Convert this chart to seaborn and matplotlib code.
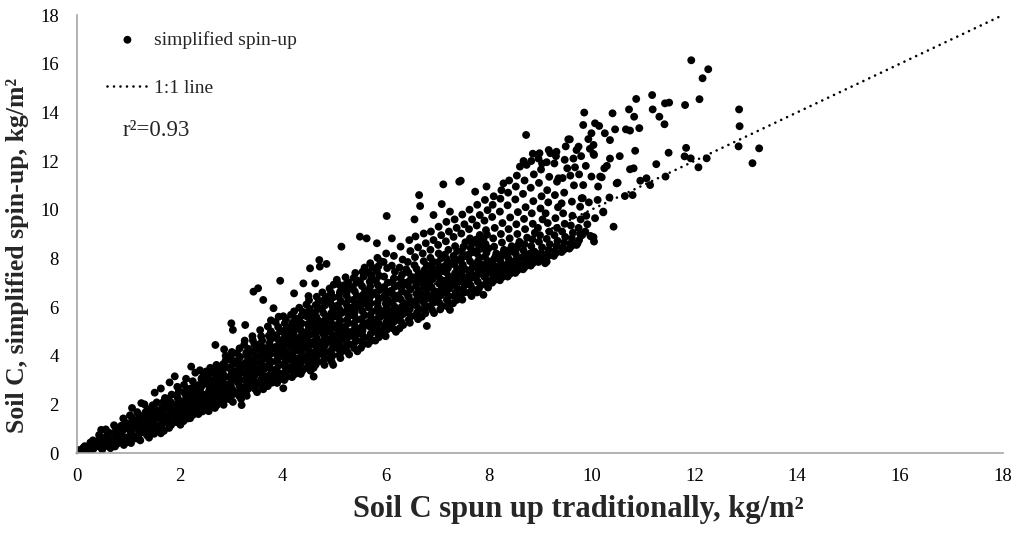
import matplotlib
matplotlib.use("Agg")
import matplotlib.pyplot as plt
import pandas as pd
import seaborn as sns

# Soil C (kg/m2) per site, grouped in narrow columns of the x value:
# ([spun up traditionally], [simplified spin-up])
soil_c_0_2 = [
    ([0.02, 0.05, 0.08, 0.04, 0.10, 0.01], [0.02, 0.07, 0.03, 0.12, 0.09, 0.00]),
    ([0.13, 0.17, 0.12, 0.19, 0.15, 0.21], [0.06, 0.14, 0.21, 0.10, 0.28, 0.19]),
    ([0.27, 0.32, 0.29, 0.34, 0.26, 0.31, 0.36], [0.09, 0.17, 0.31, 0.24, 0.43, 0.52, 0.36]),
    ([0.49, 0.44, 0.50, 0.46, 0.42, 0.48, 0.43, 0.47, 0.41], [0.14, 0.26, 0.38, 0.33, 0.51, 0.62, 0.74, 0.95, 0.45]),
    ([0.65, 0.57, 0.61, 0.64, 0.60, 0.58, 0.62, 0.56, 0.63, 0.59], [0.20, 0.29, 0.41, 0.50, 0.63, 0.72, 0.84, 0.97, 0.37, 0.56]),
    ([0.74, 0.79, 0.71, 0.76, 0.80, 0.73, 0.78, 0.75, 0.72, 0.77], [0.27, 0.39, 0.48, 0.60, 0.68, 0.81, 0.93, 1.04, 1.14, 0.55]),
    ([0.91, 0.89, 0.93, 0.96, 0.85, 0.88, 0.92, 0.86, 0.94, 0.90, 0.87, 0.95],
     [0.33, 0.45, 0.56, 0.64, 0.78, 0.90, 0.99, 1.12, 1.25, 1.42, 0.70, 0.43]),
    ([1.05, 1.02, 1.10, 1.06, 1.04, 1.08, 1.00, 1.04, 1.11, 1.06, 1.03, 1.07, 1.01, 1.09],
     [0.41, 0.52, 0.66, 0.75, 0.88, 0.97, 1.10, 1.21, 1.33, 1.47, 1.55, 1.85, 0.61, 1.02]),
    ([1.23, 1.15, 1.19, 1.26, 1.21, 1.18, 1.22, 1.16, 1.24, 1.20, 1.17, 1.25, 1.21, 1.19],
     [0.52, 0.60, 0.74, 0.86, 0.95, 1.08, 1.19, 1.30, 1.44, 1.56, 1.68, 2.05, 0.78, 1.15]),
    ([1.40, 1.36, 1.34, 1.38, 1.30, 1.36, 1.41, 1.35, 1.33, 1.33, 1.37, 1.31, 1.39, 1.35, 1.32],
     [0.63, 0.73, 0.85, 0.97, 1.06, 1.19, 1.30, 1.41, 1.55, 1.67, 1.80, 2.00, 0.90, 1.25, 1.50]),
    ([1.50, 1.49, 1.56, 1.51, 1.47, 1.48, 1.52, 1.46, 1.54, 1.50, 1.47, 1.55, 1.51, 1.49, 1.53, 1.45],
     [0.79, 0.92, 1.03, 1.12, 1.26, 1.38, 1.47, 1.60, 1.72, 1.85, 1.96, 2.08, 2.48, 1.04, 1.40, 1.63]),
    ([1.69, 1.65, 1.62, 1.70, 1.66, 1.64, 1.68, 1.60, 1.65, 1.71, 1.68, 1.71, 1.63, 1.63, 1.67, 1.61],
     [0.91, 1.02, 1.16, 1.27, 1.37, 1.50, 1.61, 1.73, 1.86, 1.98, 2.10, 2.26, 0.81, 2.65, 1.42, 1.62]),
    ([1.79, 1.83, 1.75, 1.80, 1.78, 1.86, 1.81, 1.77, 1.78, 1.82, 1.76, 1.84, 1.80, 1.77, 1.85, 1.81],
     [1.03, 1.15, 1.26, 1.40, 1.50, 1.63, 1.74, 1.86, 1.99, 2.10, 2.23, 2.40, 2.90, 1.30, 1.58, 1.81]),
    ([2.01, 1.93, 1.93, 1.97, 1.91, 1.99, 1.95, 1.92, 2.00, 1.96, 1.94, 1.98, 1.90, 1.95, 1.97, 1.94],
     [1.16, 1.27, 1.40, 1.52, 1.63, 1.75, 1.88, 2.00, 2.12, 2.25, 2.38, 2.55, 3.15, 2.72, 1.45, 1.95]),
]

soil_c_2_4 = [
    ([2.07, 2.15, 2.11, 2.09, 2.13, 2.05, 2.10, 2.12, 2.12, 2.16, 2.08, 2.14, 2.08, 2.12, 2.06, 2.14, 2.10],
     [1.31, 1.42, 1.55, 1.66, 1.78, 1.90, 2.01, 2.14, 2.26, 2.38, 2.50, 2.63, 2.80, 3.05, 1.60, 2.05, 2.45]),
    ([2.20, 2.25, 2.23, 2.27, 2.22, 2.31, 2.24, 2.29, 2.23, 2.27, 2.21, 2.29, 2.25, 2.22, 2.30, 2.26, 2.24, 2.28],
     [1.43, 1.56, 1.67, 1.80, 1.92, 2.03, 2.16, 2.28, 2.40, 2.52, 2.65, 2.78, 2.95, 3.55, 3.30, 1.72, 2.10, 2.60]),
    ([2.36, 2.44, 2.40, 2.37, 2.45, 2.41, 2.39, 2.43, 2.35, 2.40, 2.38, 2.42, 2.42, 2.46, 2.39, 2.44, 2.38, 2.42],
     [1.60, 1.71, 1.83, 1.95, 2.06, 2.20, 2.31, 2.43, 2.55, 2.67, 2.80, 2.92, 3.06, 3.20, 3.40, 1.88, 2.26, 2.75]),
    ([2.56, 2.54, 2.58, 2.50, 2.55, 2.53, 2.57, 2.57, 2.61, 2.54, 2.59, 2.53, 2.57, 2.51, 2.59, 2.55, 2.52, 2.60],
     [1.72, 1.84, 1.97, 2.08, 2.20, 2.33, 2.45, 2.57, 2.70, 2.82, 2.95, 3.08, 3.22, 3.35, 3.50, 2.00, 2.40, 2.90]),
    ([2.68, 2.72, 2.69, 2.65, 2.76, 2.69, 2.74, 2.68, 2.72, 2.66, 2.74, 2.70, 2.67, 2.75, 2.71, 2.69, 2.73, 2.65, 2.70],
     [1.85, 1.97, 2.10, 2.22, 2.34, 2.47, 2.60, 2.72, 2.85, 2.98, 3.10, 3.23, 3.37, 3.50, 3.62, 4.44, 2.15, 2.55, 3.05]),
    ([2.85, 2.82, 2.90, 2.86, 2.84, 2.88, 2.80, 2.85, 2.83, 2.87, 2.84, 2.81, 2.91, 2.84, 2.89, 2.86, 2.83, 2.87, 2.81, 2.89],
     [1.98, 2.10, 2.23, 2.36, 2.48, 2.61, 2.74, 2.86, 2.99, 3.12, 3.25, 3.38, 3.52, 3.65, 3.80, 4.26, 2.30, 2.70, 3.20, 4.00]),
    ([3.03, 2.95, 3.00, 2.98, 3.02, 2.99, 2.98, 3.02, 2.96, 3.04, 3.00, 2.97, 3.05, 3.01, 2.99, 3.00, 3.03, 3.06, 2.99, 3.04, 3.01],
     [2.10, 2.22, 2.36, 2.49, 2.61, 2.74, 2.87, 3.00, 3.13, 3.26, 3.39, 3.52, 3.66, 3.80, 3.95, 5.33, 5.06, 2.45, 2.85, 3.35, 4.15]),
    ([3.19, 3.15, 3.12, 3.20, 3.16, 3.14, 3.18, 3.10, 3.15, 3.13, 3.17, 3.14, 3.13, 3.17, 3.11, 3.20, 3.21, 3.14, 3.19, 3.16],
     [2.22, 2.35, 2.48, 2.61, 2.74, 2.87, 3.00, 3.13, 3.27, 3.40, 3.54, 3.67, 3.81, 3.95, 4.10, 1.97, 2.55, 3.05, 3.55, 4.30]),
    ([3.30, 3.28, 3.32, 3.29, 3.31, 3.28, 3.32, 3.26, 3.34, 3.30, 3.27, 3.35, 3.31, 3.29, 3.33, 3.25, 3.27, 3.36, 3.29, 3.34, 3.26],
     [2.35, 2.48, 2.62, 2.75, 2.88, 3.02, 3.15, 3.29, 3.42, 3.56, 3.70, 3.84, 3.98, 4.12, 4.28, 4.45, 5.26, 2.70, 3.20, 3.75, 4.62]),
    ([3.50, 3.46, 3.44, 3.48, 3.40, 3.45, 3.43, 3.47, 3.44, 3.46, 3.43, 3.47, 3.41, 3.49, 3.45, 3.42, 3.43, 3.51, 3.44, 3.49, 3.41],
     [2.50, 2.63, 2.77, 2.90, 3.04, 3.18, 3.31, 3.45, 3.59, 3.73, 3.87, 4.01, 4.16, 4.30, 4.46, 4.62, 6.63, 2.85, 3.38, 3.95, 4.80]),
    ([3.62, 3.59, 3.61, 3.58, 3.62, 3.56, 3.64, 3.60, 3.57, 3.65, 3.61, 3.59, 3.63, 3.55, 3.60, 3.58, 3.52, 3.62, 3.66, 3.59, 3.64, 3.56],
     [2.62, 2.76, 2.90, 3.03, 3.17, 3.31, 3.45, 3.60, 3.74, 3.88, 4.02, 4.17, 4.32, 4.47, 4.62, 4.80, 6.77, 6.29, 2.98, 3.52, 4.10, 5.05]),
    ([3.71, 3.79, 3.75, 3.72, 3.80, 3.76, 3.74, 3.78, 3.70, 3.75, 3.73, 3.77, 3.74, 3.76, 3.73, 3.77, 3.82, 3.81, 3.74, 3.79, 3.71, 3.77],
     [2.75, 2.89, 3.03, 3.17, 3.31, 3.46, 3.60, 3.75, 3.90, 4.05, 4.20, 4.35, 4.50, 4.66, 4.82, 5.00, 5.95, 3.10, 3.68, 4.28, 5.20, 5.45]),
    ([3.89, 3.93, 3.85, 3.90, 3.88, 3.92, 3.89, 3.91, 3.88, 3.92, 3.86, 3.94, 3.90, 3.87, 3.95, 3.91, 3.95, 3.96, 3.89, 3.94, 3.86, 3.92],
     [2.88, 3.02, 3.16, 3.31, 3.45, 3.60, 3.75, 3.90, 4.05, 4.20, 4.36, 4.52, 4.68, 4.84, 5.00, 5.18, 7.08, 3.25, 3.82, 4.45, 5.38, 5.60]),
]

soil_c_4_6 = [
    ([4.03, 4.07, 4.01, 4.09, 4.05, 4.02, 4.08, 4.04, 4.10, 4.06, 4.00, 4.05, 4.08, 4.03, 4.07, 4.02, 4.09, 4.04, 4.06, 4.01, 4.01, 4.10, 4.00, 4.08],
     [3.00, 3.12, 3.27, 3.38, 3.52, 3.66, 3.80, 3.91, 4.06, 4.20, 4.33, 4.47, 4.60, 4.74, 4.88, 5.02, 5.17, 5.33, 5.50, 5.62, 2.66, 3.45, 4.12, 4.55]),
    ([4.18, 4.24, 4.20, 4.15, 4.23, 4.19, 4.21, 4.16, 4.24, 4.18, 4.22, 4.20, 4.17, 4.21, 4.17, 4.23, 4.19, 4.25, 4.16, 4.22, 4.22, 4.25, 4.16, 4.23],
     [3.12, 3.25, 3.37, 3.52, 3.64, 3.79, 3.93, 4.05, 4.20, 4.34, 4.47, 4.62, 4.76, 4.90, 5.05, 5.20, 5.36, 5.52, 5.68, 5.82, 6.56, 3.60, 4.42, 5.10]),
    ([4.35, 4.38, 4.31, 4.34, 4.37, 4.33, 4.36, 4.36, 4.32, 4.38, 4.34, 4.31, 4.39, 4.35, 4.33, 4.37, 4.30, 4.36, 4.39, 4.32, 4.40, 4.30, 4.38, 4.33],
     [3.25, 3.38, 3.50, 3.63, 3.77, 3.90, 4.04, 4.19, 4.31, 4.46, 4.60, 4.73, 4.88, 5.03, 5.18, 5.32, 5.48, 5.63, 5.80, 5.97, 6.97, 3.85, 4.66, 5.40]),
    ([4.54, 4.47, 4.50, 4.53, 4.45, 4.49, 4.52, 4.47, 4.55, 4.50, 4.46, 4.53, 4.48, 4.51, 4.49, 4.54, 4.47, 4.48, 4.52, 4.46, 4.51, 4.53, 4.55, 4.46, 4.52, 4.50],
     [3.38, 3.50, 3.64, 3.77, 3.90, 4.03, 4.17, 4.31, 4.45, 4.58, 4.72, 4.86, 5.01, 5.15, 5.30, 5.46, 5.61, 5.77, 5.93, 6.10, 6.28, 7.59, 4.10, 4.95, 5.70, 6.45]),
    ([4.60, 4.64, 4.68, 4.62, 4.67, 4.63, 4.69, 4.65, 4.61, 4.66, 4.64, 4.63, 4.67, 4.61, 4.69, 4.65, 4.62, 4.68, 4.64, 4.70, 4.66, 4.60, 4.63, 4.72, 4.70, 4.61, 4.68],
     [3.50, 3.63, 3.76, 3.90, 4.03, 4.17, 4.30, 4.44, 4.58, 4.72, 4.86, 5.00, 5.15, 5.30, 5.45, 5.60, 5.76, 5.92, 6.08, 6.25, 6.42, 3.14, 6.97, 7.66, 4.35, 5.20, 6.00]),
    ([4.81, 4.78, 4.83, 4.79, 4.80, 4.79, 4.82, 4.77, 4.84, 4.80, 4.76, 4.83, 4.78, 4.81, 4.85, 4.79, 4.76, 4.82, 4.80, 4.84, 4.77, 4.85, 4.71, 4.76, 4.84, 4.81],
     [3.62, 3.75, 3.88, 4.02, 4.15, 4.29, 4.43, 4.57, 4.71, 4.85, 4.99, 5.14, 5.29, 5.44, 5.59, 5.75, 5.91, 6.07, 6.24, 6.41, 6.60, 7.77, 7.93, 4.50, 5.35, 6.30]),
    ([4.95, 4.93, 4.97, 4.90, 4.96, 4.99, 4.93, 4.95, 4.98, 4.91, 4.94, 4.97, 4.92, 4.96, 4.94, 4.98, 4.96, 4.92, 4.98, 4.94, 4.91, 4.99, 4.98, 5.00, 4.91, 4.93],
     [3.75, 3.88, 4.01, 4.15, 4.28, 4.42, 4.56, 4.70, 4.84, 4.98, 5.13, 5.28, 5.43, 5.58, 5.74, 5.90, 6.06, 6.23, 6.40, 6.58, 6.76, 6.92, 3.62, 4.62, 5.50, 6.50]),
    ([5.12, 5.10, 5.14, 5.07, 5.11, 5.08, 5.13, 5.09, 5.10, 5.06, 5.08, 5.12, 5.06, 5.14, 5.10, 5.07, 5.13, 5.09, 5.11, 5.15, 5.08, 5.05, 5.14, 5.15, 5.06, 5.12],
     [3.90, 4.03, 4.16, 4.30, 4.43, 4.57, 4.71, 4.85, 5.00, 5.14, 5.29, 5.44, 5.59, 5.75, 5.91, 6.07, 6.24, 6.41, 6.58, 6.76, 6.94, 7.12, 8.48, 4.78, 5.65, 6.65]),
    ([5.29, 5.25, 5.21, 5.28, 5.23, 5.26, 5.30, 5.24, 5.20, 5.27, 5.25, 5.29, 5.22, 5.26, 5.23, 5.28, 5.24, 5.25, 5.24, 5.27, 5.22, 5.21, 5.30, 5.20],
     [4.05, 4.18, 4.32, 4.46, 4.60, 4.74, 4.88, 5.03, 5.18, 5.33, 5.48, 5.64, 5.80, 5.96, 6.13, 6.30, 6.47, 6.65, 6.83, 7.02, 7.22, 4.95, 5.85, 6.90]),
    ([5.45, 5.39, 5.35, 5.42, 5.40, 5.44, 5.37, 5.41, 5.38, 5.43, 5.39, 5.40, 5.39, 5.42, 5.37, 5.44, 5.40, 5.36, 5.43, 5.38, 5.41, 5.45, 5.36, 5.44],
     [4.18, 4.31, 4.45, 4.59, 4.73, 4.87, 5.02, 5.17, 5.32, 5.47, 5.63, 5.79, 5.95, 6.12, 6.29, 6.46, 6.64, 6.82, 7.00, 7.20, 7.40, 5.10, 6.00, 7.10]),
    ([5.52, 5.56, 5.53, 5.58, 5.54, 5.55, 5.54, 5.57, 5.52, 5.59, 5.55, 5.51, 5.58, 5.53, 5.56, 5.60, 5.54, 5.50, 5.57, 5.55, 5.59, 5.63, 5.50, 5.60, 5.51],
     [4.32, 4.46, 4.60, 4.74, 4.89, 5.04, 5.19, 5.34, 5.50, 5.66, 5.82, 5.98, 6.15, 6.32, 6.50, 6.68, 6.86, 7.05, 7.25, 7.45, 7.62, 8.82, 8.89, 5.25, 6.20]),
    ([5.66, 5.73, 5.68, 5.71, 5.75, 5.69, 5.65, 5.72, 5.70, 5.74, 5.67, 5.71, 5.68, 5.73, 5.69, 5.70, 5.69, 5.72, 5.67, 5.74, 5.70, 5.75, 5.66, 5.73],
     [4.48, 4.62, 4.76, 4.90, 5.05, 5.20, 5.35, 5.50, 5.66, 5.82, 5.98, 6.15, 6.32, 6.49, 6.67, 6.85, 7.04, 7.23, 7.42, 7.62, 7.80, 5.40, 6.40, 7.30]),
    ([5.80, 5.87, 5.85, 5.89, 5.82, 5.86, 5.83, 5.88, 5.84, 5.85, 5.84, 5.87, 5.82, 5.89, 5.85, 5.81, 5.88, 5.83, 5.86, 5.90, 5.84, 5.83, 5.90, 5.81],
     [4.62, 4.76, 4.90, 5.05, 5.20, 5.35, 5.51, 5.67, 5.83, 6.00, 6.17, 6.34, 6.52, 6.70, 6.89, 7.08, 7.28, 7.48, 7.68, 7.88, 8.02, 8.62, 5.60, 6.60]),
]

soil_c_6_8 = [
    ([6.00, 5.96, 6.03, 5.98, 6.01, 6.05, 5.99, 5.95, 6.02, 6.00, 6.04, 5.99, 6.02, 5.97, 6.04, 5.97, 6.03, 5.96, 6.01, 6.02, 6.05, 5.96],
     [4.80, 4.94, 5.08, 5.22, 5.37, 5.52, 5.67, 5.82, 5.98, 6.14, 6.30, 6.47, 6.64, 6.82, 7.00, 7.25, 7.60, 7.85, 8.20, 9.74, 5.75, 6.40]),
    ([6.20, 6.14, 6.10, 6.17, 6.15, 6.19, 6.14, 6.17, 6.12, 6.19, 6.15, 6.11, 6.18, 6.13, 6.16, 6.18, 6.12, 6.16, 6.12, 6.20, 6.11],
     [4.98, 5.12, 5.26, 5.41, 5.56, 5.71, 5.86, 6.02, 6.18, 6.34, 6.50, 6.67, 6.84, 7.02, 7.18, 7.45, 7.70, 8.10, 8.82, 5.50, 6.60]),
    ([6.27, 6.34, 6.30, 6.26, 6.33, 6.28, 6.31, 6.35, 6.29, 6.25, 6.32, 6.30, 6.34, 6.29, 6.32, 6.27, 6.33, 6.29, 6.35, 6.26],
     [5.12, 5.26, 5.40, 5.55, 5.70, 5.85, 6.00, 6.16, 6.32, 6.48, 6.65, 6.82, 7.00, 7.18, 7.33, 7.62, 7.95, 8.48, 5.90, 6.90]),
    ([6.47, 6.45, 6.49, 6.44, 6.47, 6.42, 6.49, 6.45, 6.41, 6.48, 6.43, 6.46, 6.50, 6.44, 6.40, 6.43, 6.48, 6.46, 6.50, 6.41],
     [5.35, 5.48, 5.62, 5.77, 5.92, 6.07, 6.23, 6.39, 6.55, 6.72, 6.89, 7.06, 7.24, 7.42, 7.55, 7.85, 8.30, 8.75, 6.10, 7.00]),
    ([6.63, 6.58, 6.61, 6.65, 6.59, 6.55, 6.62, 6.60, 6.64, 6.59, 6.62, 6.57, 6.64, 6.60, 6.56, 6.57, 6.63, 6.58, 6.56, 6.65, 6.65, 6.56],
     [5.50, 5.63, 5.77, 5.92, 6.07, 6.22, 6.38, 6.54, 6.70, 6.87, 7.04, 7.21, 7.39, 7.57, 7.72, 8.05, 8.45, 8.90, 9.60, 10.60, 6.30, 7.10]),
    ([6.70, 6.77, 6.75, 6.79, 6.74, 6.77, 6.72, 6.79, 6.75, 6.71, 6.78, 6.73, 6.76, 6.80, 6.74, 6.72, 6.78, 6.74, 6.67, 6.80, 6.80, 6.71],
     [5.60, 5.74, 5.88, 6.03, 6.18, 6.34, 6.50, 6.66, 6.83, 7.00, 7.17, 7.35, 7.53, 7.70, 7.88, 8.20, 8.62, 9.02, 10.15, 5.22, 6.45, 7.25]),
    ([6.94, 6.90, 6.86, 6.93, 6.88, 6.91, 6.95, 6.89, 6.85, 6.92, 6.90, 6.94, 6.89, 6.92, 6.87, 6.87, 6.93, 6.88, 6.93, 6.95, 6.86],
     [5.75, 5.89, 6.03, 6.18, 6.33, 6.49, 6.65, 6.81, 6.98, 7.15, 7.32, 7.50, 7.68, 7.86, 8.02, 8.35, 8.75, 9.10, 9.78, 6.60, 7.40]),
    ([7.06, 7.10, 7.04, 7.00, 7.07, 7.05, 7.09, 7.04, 7.07, 7.02, 7.09, 7.05, 7.01, 7.08, 7.03, 7.02, 7.08, 7.03, 7.09, 7.10, 7.01],
     [5.90, 6.04, 6.18, 6.33, 6.48, 6.64, 6.80, 6.96, 7.13, 7.30, 7.47, 7.65, 7.83, 8.01, 8.20, 8.55, 8.95, 9.30, 10.23, 6.75, 7.55]),
    ([7.20, 7.24, 7.19, 7.22, 7.17, 7.24, 7.20, 7.16, 7.23, 7.18, 7.21, 7.25, 7.19, 7.15, 7.22, 7.17, 7.23, 7.18, 7.25, 7.12, 7.25, 7.25, 7.16],
     [6.02, 6.16, 6.30, 6.45, 6.60, 6.76, 6.92, 7.08, 7.25, 7.42, 7.60, 7.78, 7.96, 8.15, 8.35, 8.70, 9.10, 9.50, 9.92, 11.04, 5.88, 6.90, 7.70]),
    ([7.31, 7.38, 7.33, 7.36, 7.40, 7.34, 7.30, 7.37, 7.35, 7.39, 7.34, 7.37, 7.32, 7.39, 7.35, 7.32, 7.38, 7.34, 7.43, 7.46, 7.40, 7.31],
     [6.15, 6.29, 6.44, 6.59, 6.74, 6.90, 7.06, 7.22, 7.39, 7.56, 7.74, 7.92, 8.10, 8.30, 8.50, 8.88, 9.25, 9.60, 11.15, 11.19, 7.00, 7.85]),
    ([7.49, 7.45, 7.52, 7.50, 7.54, 7.49, 7.52, 7.47, 7.54, 7.50, 7.46, 7.53, 7.48, 7.51, 7.55, 7.47, 7.53, 7.49, 7.55, 7.46],
     [6.30, 6.44, 6.59, 6.74, 6.90, 7.06, 7.22, 7.39, 7.56, 7.73, 7.91, 8.09, 8.28, 8.47, 8.66, 9.02, 9.40, 9.80, 7.15, 8.00]),
    ([7.67, 7.62, 7.69, 7.65, 7.61, 7.68, 7.63, 7.66, 7.70, 7.64, 7.60, 7.67, 7.65, 7.69, 7.64, 7.62, 7.68, 7.63, 7.74, 7.70, 7.61],
     [6.45, 6.59, 6.74, 6.89, 7.05, 7.21, 7.37, 7.54, 7.71, 7.88, 8.06, 8.24, 8.43, 8.62, 8.82, 9.20, 9.60, 10.00, 10.74, 7.30, 8.15]),
    ([7.78, 7.81, 7.85, 7.79, 7.75, 7.82, 7.80, 7.84, 7.79, 7.82, 7.77, 7.84, 7.80, 7.76, 7.83, 7.77, 7.83, 7.78, 7.90, 7.85, 7.76],
     [6.60, 6.74, 6.89, 7.04, 7.20, 7.36, 7.52, 7.69, 7.86, 8.03, 8.21, 8.39, 8.58, 8.77, 8.96, 9.35, 9.78, 10.20, 6.50, 7.45, 8.30]),
    ([7.99, 7.94, 7.97, 7.92, 7.99, 7.95, 7.91, 7.98, 7.93, 7.96, 8.00, 7.94, 7.90, 7.97, 7.95, 7.92, 7.98, 7.93, 7.96, 8.00, 7.91],
     [6.80, 6.94, 7.09, 7.24, 7.40, 7.56, 7.72, 7.89, 8.06, 8.23, 8.41, 8.59, 8.78, 8.97, 9.16, 9.55, 9.98, 10.40, 10.95, 7.60, 8.50]),
]

# sparser part of the cloud: (spun up traditionally, simplified spin-up)
soil_c_8_10 = [
    (8.07, 7.00), (8.09, 7.20), (8.12, 7.38), (8.11, 7.10), (8.14, 7.55), (8.08, 7.75), (8.13, 7.28), (8.10, 7.95), (8.06, 7.50), (8.15, 8.20), (8.11, 8.48), (8.09, 8.82), (8.14, 7.65), (8.12, 9.25), (8.07, 9.70), (8.13, 8.05), (8.08, 10.20), (8.10, 10.55),
    (8.22, 7.10), (8.24, 7.32), (8.27, 7.50), (8.26, 7.22), (8.29, 7.68), (8.23, 7.88), (8.28, 7.40), (8.25, 8.10), (8.21, 7.62), (8.30, 8.35), (8.26, 8.65), (8.24, 9.00), (8.29, 11.08), (8.27, 9.45), (8.22, 9.92), (8.28, 8.20), (8.23, 10.45), (8.25, 10.80),
    (8.37, 7.25), (8.39, 7.45), (8.42, 7.62), (8.41, 7.35), (8.44, 7.82), (8.38, 8.02), (8.43, 7.55), (8.40, 8.25), (8.36, 7.75), (8.45, 8.50), (8.41, 8.82), (8.39, 9.20), (8.42, 9.68), (8.37, 10.18), (8.43, 8.38), (8.38, 10.70), (8.40, 11.20),
    (8.52, 7.40), (8.54, 7.60), (8.57, 7.78), (8.56, 7.50), (8.59, 7.98), (8.53, 8.18), (8.58, 7.70), (8.55, 8.42), (8.51, 7.90), (8.60, 8.68), (8.56, 9.00), (8.54, 9.40), (8.57, 9.90), (8.61, 11.77), (8.52, 10.42), (8.58, 8.55), (8.53, 10.95), (8.55, 11.40),
    (8.67, 7.55), (8.69, 7.75), (8.72, 7.92), (8.71, 7.65), (8.74, 8.12), (8.68, 8.32), (8.73, 7.85), (8.70, 8.58), (8.66, 8.05), (8.75, 8.85), (8.71, 9.20), (8.74, 8.00), (8.73, 13.07), (8.74, 11.84), (8.72, 10.10), (8.67, 10.65), (8.70, 11.20), (8.69, 9.62), (8.68, 12.00),
    (8.82, 7.70), (8.84, 7.90), (8.87, 8.08), (8.86, 7.80), (8.89, 8.28), (8.83, 8.50), (8.88, 8.00), (8.85, 8.78), (8.81, 8.20), (8.90, 9.05), (8.86, 9.42), (8.84, 9.85), (8.87, 10.35), (8.82, 10.90), (8.88, 11.45), (8.83, 12.00), (8.86, 12.30),
    (8.97, 7.85), (8.99, 8.05), (9.02, 8.22), (9.01, 7.95), (9.04, 8.45), (8.98, 8.68), (9.03, 8.15), (9.00, 8.95), (8.96, 9.25), (9.05, 9.60), (9.01, 10.05), (8.99, 12.32), (9.03, 10.55), (8.98, 11.10), (9.02, 11.65), (8.97, 12.10), (9.04, 11.90),
    (9.12, 7.98), (9.13, 7.86), (9.14, 8.18), (9.17, 8.35), (9.16, 8.10), (9.19, 8.58), (9.13, 8.80), (9.18, 9.10), (9.15, 9.45), (9.11, 9.85), (9.20, 12.32), (9.16, 10.30), (9.14, 10.80), (9.18, 11.35), (9.13, 11.95), (9.17, 12.45), (9.10, 7.80),
    (9.27, 8.10), (9.29, 8.30), (9.32, 8.50), (9.31, 8.22), (9.34, 8.72), (9.28, 8.95), (9.33, 9.25), (9.30, 9.65), (9.32, 12.38), (9.36, 11.29), (9.35, 10.10), (9.29, 10.60), (9.33, 11.15), (9.28, 11.90), (9.31, 12.20),
    (9.42, 8.26), (9.44, 8.45), (9.47, 8.65), (9.46, 8.35), (9.49, 8.88), (9.43, 9.10), (9.48, 9.42), (9.45, 9.85), (9.42, 10.26), (9.47, 10.70), (9.44, 11.30), (9.48, 12.05), (9.53, 11.70), (9.55, 12.89), (9.50, 12.60),
    (9.57, 8.40), (9.59, 8.60), (9.62, 8.82), (9.61, 8.50), (9.64, 9.05), (9.58, 12.89), (9.62, 10.33), (9.60, 9.35), (9.63, 9.75), (9.68, 11.74), (9.66, 11.00), (9.71, 12.45), (9.71, 8.55), (9.65, 12.10), (9.59, 11.40),
    (9.73, 8.62), (9.76, 8.75), (9.78, 9.00), (9.75, 9.25), (9.78, 10.12), (9.81, 10.47), (9.84, 11.01), (9.75, 12.59), (9.79, 9.60), (9.76, 11.45), (9.80, 12.20), (9.82, 8.96), (9.81, 8.96),
    (9.83, 10.47), (9.84, 13.48), (9.86, 13.99), (9.88, 9.10), (9.92, 9.40), (9.90, 9.75), (9.95, 10.30), (9.89, 11.80), (9.94, 12.90), (10.00, 13.14), (9.98, 8.92), (10.00, 11.36), (9.97, 12.50),
]

soil_c_above_10 = [
    (10.04, 12.29), (10.05, 12.25), (10.04, 12.66), (10.07, 13.55), (10.15, 13.44), (10.26, 13.14), (10.36, 12.86),
    (10.41, 13.96), (10.46, 13.30), (10.67, 13.30), (10.75, 13.25), (10.73, 14.12), (10.87, 14.55), (10.83, 13.82),
    (10.93, 13.35), (11.18, 14.71), (11.19, 14.12), (11.43, 14.37), (11.51, 14.40), (11.82, 14.30), (12.10, 14.54),
    (11.32, 13.82), (11.42, 13.51), (11.94, 16.14), (12.27, 15.77), (12.16, 15.40), (12.87, 14.12), (12.88, 13.43),
    (12.86, 12.60), (13.26, 12.52), (13.13, 11.91), (11.84, 12.54), (11.81, 12.19), (11.93, 12.11), (12.08, 11.74),
    (12.24, 12.11), (11.50, 12.34), (11.26, 11.87), (11.44, 11.36), (10.85, 12.42), (10.75, 11.66), (10.82, 11.70),
    (10.95, 11.19), (11.07, 11.29), (11.14, 11.01), (10.49, 11.08), (10.65, 10.56), (10.80, 10.60), (10.43, 9.30),
    (10.23, 9.89), (10.07, 9.65), (10.05, 8.69), (10.00, 8.89), (10.17, 11.36), (10.20, 11.33), (10.13, 10.95),
    (10.51, 11.11), (10.23, 9.92), (10.04, 8.87), (10.36, 12.10), (10.30, 11.80), (10.55, 12.20), (10.12, 10.40),
    (10.35, 10.50), (10.25, 11.70),
]

x_ticks = [0, 2, 4, 6, 8, 10, 12, 14, 16, 18]
y_ticks = [0, 2, 4, 6, 8, 10, 12, 14, 16, 18]
r_squared_text = "r²=0.93"

column_points = [pt for xs, ys in soil_c_0_2 + soil_c_2_4 + soil_c_4_6 + soil_c_6_8
                 for pt in zip(xs, ys)]
df = pd.DataFrame(column_points + soil_c_8_10 + soil_c_above_10,
                  columns=["traditional", "simplified"])

sns.set_theme(style="white")
plt.rcParams["font.family"] = ["Liberation Serif", "DejaVu Serif"]

W, H = 1022, 533
fig = plt.figure(figsize=(W / 100, H / 100), dpi=100)
ax = fig.add_axes([77 / W, 1 - 453 / H, (1003 - 77) / W, (453 - 15) / H])

# 1:1 reference line, round dots
ax.plot([0, 18], [0, 18], color="black", lw=1.9, linestyle=(0, (0.01, 2.45)),
        dash_capstyle="round", zorder=1, clip_on=False, label="1:1 line")

sns.scatterplot(data=df, x="traditional", y="simplified", color="black", s=32,
                edgecolor="none", linewidth=0, ax=ax, zorder=2,
                label="simplified spin-up", legend=False)

ax.set_xlim(0, 18)
ax.set_ylim(0, 18)
ax.set_xticks(x_ticks)
ax.set_yticks(y_ticks)
ax.set_xticklabels([str(t) for t in x_ticks])
ax.set_yticklabels([str(t) for t in y_ticks])

sns.despine(ax=ax)
for side in ("left", "bottom"):
    ax.spines[side].set_color("#a6a6a6")
    ax.spines[side].set_linewidth(1.2)
ax.tick_params(axis="both", direction="out", length=4, width=1.0, color="#a6a6a6",
               labelsize=13.5, labelcolor="black")
ax.tick_params(axis="x", pad=7)
ax.tick_params(axis="y", pad=9)

ax.set_xlabel("Soil C spun up traditionally, kg/m²", fontsize=22, fontweight="bold")
ax.set_ylabel("Soil C, simplified spin-up, kg/m²", fontsize=18.5, fontweight="bold")
ax.xaxis.label.set_va("center")
ax.yaxis.label.set_va("center")
ax.xaxis.set_label_coords((578 - 77) / 926, (453 - 509) / 438)
ax.yaxis.set_label_coords((18 - 77) / 926, (453 - 255) / 438)

handles, labels = ax.get_legend_handles_labels()
order = [labels.index("simplified spin-up"), labels.index("1:1 line")]
fig.legend([handles[i] for i in order], [labels[i] for i in order],
           loc="upper left", bbox_to_anchor=(107 / W, 1 - 31 / H), frameon=False,
           fontsize=14, handlelength=2.1, handletextpad=0.3, labelspacing=1.55,
           borderpad=0, borderaxespad=0, markerscale=1.0)

fig.text(123 / W, 1 - 130 / H, r_squared_text, fontsize=16.5, ha="left", va="center")

fig.savefig("out.png", dpi=100)
